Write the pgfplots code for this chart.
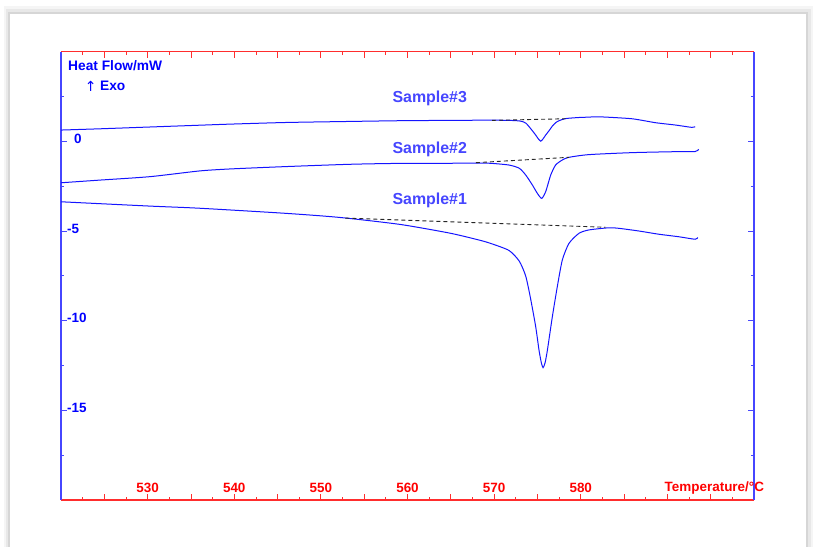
\documentclass[border=0pt]{standalone}
\usepackage{pgfplots}
\pgfplotsset{compat=1.18}
\usepackage{fontspec}
\setmainfont{Liberation Sans}
\newfontfamily\arrowfont{DejaVu Sans}
\definecolor{curve}{RGB}{20,20,255}
\definecolor{lblue}{RGB}{70,70,255}
\definecolor{axred}{RGB}{255,45,45}
\definecolor{axblue}{RGB}{70,70,255}
\newcommand{\tfont}{\fontsize{13.5}{16}\selectfont\bfseries}

\begin{document}
\begin{tikzpicture}[x=1bp,y=1bp]
\useasboundingbox (0,0) rectangle (813,547);
% page with its shadow
\fill[black!4] (4,0) rectangle (813,541);
\fill[black!9] (6,0) rectangle (811,538);
\fill[black!16] (8,0) rectangle (808,535);
\fill[white] (10,0) rectangle (806,533);

\begin{axis}[
    at={(61bp,47bp)}, anchor=south west,
    width=693bp, height=448.3bp, scale only axis,
    xmin=520, xmax=600, ymin=-20, ymax=5,
    separate axis lines,
    x axis line style={axred, line width=1.2bp},
    y axis line style={axblue, line width=1.2bp},
    xtick={520,525,...,600},
    xticklabels={,,530,,540,,550,,560,,570,,580,,,,},
    minor x tick num=1,
    ytick={-20,-15,...,5},
    yticklabels={,-15,-10,-5,\hspace{7bp}0,},
    minor y tick num=1,
    tick align=inside,
    major tick length=6bp, minor tick length=3bp,
    xtick style={axred, line width=0.8bp},
    ytick style={axblue, line width=0.8bp},
    xticklabel style={anchor=center, yshift=12bp, text=red, font=\tfont},
    yticklabel style={anchor=west, inner sep=0pt, xshift=6bp, yshift=2.5bp, text=blue, font=\tfont},
    clip=false,
]

% Sample#3
\addplot[curve, line width=1bp, smooth, tension=0.4] coordinates {
    (520,0.63) (524.5,0.70) (530.25,0.80) (536,0.90) (539.5,0.96)
    (545.8,1.05) (552,1.10) (559,1.15) (565,1.17) (569.4,1.18)
    (571.7,1.17) (572.9,1.14) (573.3,1.10) (573.7,1.00) (574.03,0.82)
    (574.4,0.60) (574.8,0.35) (575.1,0.14) (575.38,0.01) (575.65,0.14)
    (575.95,0.35) (576.35,0.60) (576.72,0.85) (577.1,1.04) (577.49,1.15)
    (578.26,1.27) (579.8,1.33) (580.94,1.35) (582.1,1.37) (585.9,1.26)
    (588.63,1.04) (590.93,0.91) (592.81,0.78) (593.2,0.82)
};
% Sample#2
\addplot[curve, line width=1bp, smooth, tension=0.4] coordinates {
    (520,-2.31) (524.5,-2.16) (530.25,-1.97) (536,-1.65) (539.5,-1.54)
    (545.8,-1.41) (553.3,-1.28) (559,-1.23) (567.1,-1.22) (569.4,-1.22)
    (571.7,-1.32) (572.9,-1.50) (573.65,-1.88) (574.41,-2.43) (574.99,-2.90)
    (575.49,-3.18) (575.95,-2.81) (576.53,-1.88) (577.1,-1.32) (577.87,-1.04)
    (578.64,-0.89) (580.94,-0.74) (585.9,-0.63) (590.5,-0.58) (593.2,-0.57)
    (593.6,-0.44)
};
% Sample#1
\addplot[curve, line width=1bp, smooth, tension=0.4] coordinates {
    (520,-3.37) (530.25,-3.61) (536,-3.73) (545.8,-4.01) (552.1,-4.24)
    (559.1,-4.63) (564.8,-5.11) (567.9,-5.46) (569.4,-5.66) (571.7,-6.08)
    (572.9,-6.68) (573.65,-7.52) (574.22,-8.80) (574.8,-10.34) (575.18,-11.64)
    (575.45,-12.35) (575.65,-12.62) (575.88,-12.35) (576.15,-11.64) (576.72,-9.78)
    (577.29,-8.11) (577.87,-6.62) (578.64,-5.69) (579.79,-5.13) (580.94,-4.94)
    (583.25,-4.82) (584.4,-4.85) (586.71,-5.0) (589.02,-5.18) (591.32,-5.32)
    (593.2,-5.46) (593.5,-5.36)
};
% baselines
\addplot[black!85, line width=0.9bp, dash pattern=on 4bp off 3bp] coordinates {(569.77,1.17) (578.26,1.26)};
\addplot[black!85, line width=0.9bp, dash pattern=on 4bp off 3bp] coordinates {(567.89,-1.19) (578.64,-0.89)};
\addplot[black!85, line width=0.9bp, dash pattern=on 4bp off 3bp] coordinates {(552.83,-4.28) (582.87,-4.79)};

\node[anchor=west, inner sep=0pt, text=lblue, font=\fontsize{16}{19}\selectfont\bfseries] at (axis cs:558.25,2.40) {Sample\#3};
\node[anchor=west, inner sep=0pt, text=lblue, font=\fontsize{16}{19}\selectfont\bfseries] at (axis cs:558.25,-0.43) {Sample\#2};
\node[anchor=west, inner sep=0pt, text=lblue, font=\fontsize{16}{19}\selectfont\bfseries] at (axis cs:558.25,-3.31) {Sample\#1};

\node[anchor=west, inner sep=0pt, text=blue, font=\fontsize{13.8}{16}\selectfont\bfseries] at (axis cs:520.81,4.20) {Heat Flow/mW};
\node[inner sep=0pt, text=blue, font=\fontsize{14}{16}\selectfont\arrowfont] at (axis cs:523.42,3.09) {↑};
\node[anchor=west, inner sep=0pt, text=blue, font=\fontsize{13.8}{16}\selectfont\bfseries] at (axis cs:524.49,3.09) {Exo};
\node[anchor=west, inner sep=0pt, text=red, font=\tfont] at (axis cs:589.67,-19.33) {Temperature/°C};
\end{axis}
\end{tikzpicture}
\end{document}
